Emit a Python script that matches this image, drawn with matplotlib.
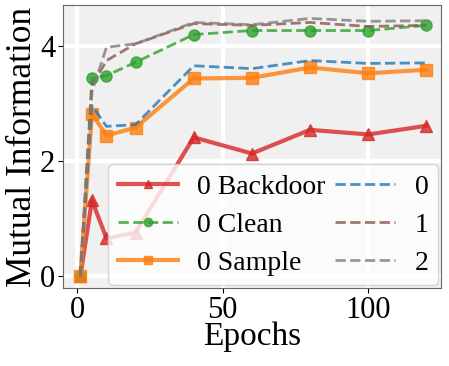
import matplotlib
matplotlib.use("Agg")
import matplotlib.pyplot as plt
import numpy as np

epochs = [1, 5, 10, 20, 40, 60, 80, 100, 120]
backdoor = [0.0, 1.32, 0.66, 0.76, 2.41, 2.13, 2.54, 2.46, 2.61]
clean = [0.0, 3.43, 3.48, 3.71, 4.19, 4.26, 4.26, 4.26, 4.35]
sample = [0.0, 2.82, 2.44, 2.58, 3.43, 3.44, 3.62, 3.52, 3.58]
ref0 = [0.0, 2.96, 2.60, 2.63, 3.65, 3.60, 3.74, 3.69, 3.70]
ref1 = [0.0, 3.30, 3.74, 4.03, 4.38, 4.35, 4.40, 4.33, 4.35]
ref2 = [0.0, 3.20, 3.97, 4.03, 4.40, 4.36, 4.47, 4.42, 4.43]

plt.rcParams['font.family'] = ['Liberation Serif', 'DejaVu Serif']

fig, ax = plt.subplots(figsize=(4.49, 3.66), dpi=100)
ax.set_facecolor('#f0f0f0')
ax.grid(True, color='white', linewidth=3)
ax.set_axisbelow(True)
for s in ax.spines.values():
    s.set_color('#666666')

ax.plot(epochs, backdoor, '-^', color='#d62728', lw=3, ms=8, alpha=0.8, label='0 Backdoor')
ax.plot(epochs, clean, '--o', color='#2ca02c', lw=2, ms=8, alpha=0.8, label='0 Clean')
ax.plot(epochs, sample, '-s', color='#ff7f0e', lw=3, ms=8, alpha=0.8, label='0 Sample')
ax.plot(epochs, ref0, '--', color='#1f77b4', lw=2, alpha=0.8, label='0')
ax.plot(epochs, ref1, '--', color='#8c564b', lw=2, alpha=0.8, label='1')
ax.plot(epochs, ref2, '--', color='#7f7f7f', lw=2, alpha=0.8, label='2')

ax.set_xlim(-5, 125)
ax.set_ylim(-0.2, 4.7)
ax.set_xticks([0, 50, 100])
ax.set_yticks([0, 2, 4])
ax.tick_params(labelsize=22, pad=2)
ax.set_xlabel('Epochs', fontsize=24, labelpad=-2)
ax.set_ylabel('Mutual Information', fontsize=25.5, labelpad=1)

leg = ax.legend(ncol=2, fontsize=20, loc='lower right', markerfirst=True,
                handlelength=2.15, columnspacing=0.35, handletextpad=0.7,
                borderpad=0.35, labelspacing=0.45, framealpha=0.8,
                borderaxespad=0.1, markerscale=0.75)
for t in leg.get_texts()[3:]:
    t.set_ha('right')

fig.subplots_adjust(left=0.14, right=0.982, bottom=0.213, top=0.986)
fig.savefig('out.png', dpi=100)
